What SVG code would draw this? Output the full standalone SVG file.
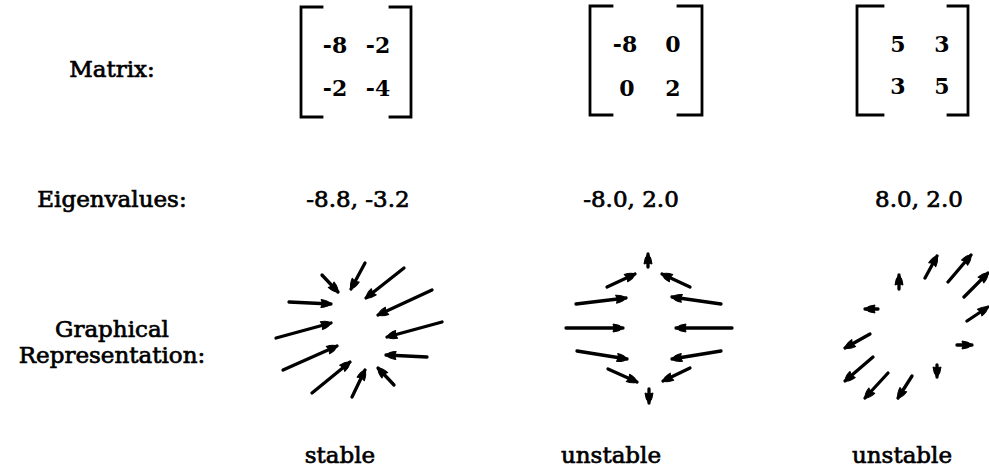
<svg xmlns="http://www.w3.org/2000/svg" width="989" height="474" viewBox="0 0 989 474">
<style>
  .lbl { font-family: "DejaVu Serif", "Liberation Serif", serif; font-size: 23px; fill: #000; text-anchor: middle; stroke: #000; stroke-width: 0.7px; }
  .num { font-family: "DejaVu Serif", "Liberation Serif", serif; font-size: 22px; font-weight: bold; fill: #000; text-anchor: middle; }
  .brk { fill: none; stroke: #000; stroke-width: 2.8; stroke-linecap: square; }
  .arr { fill: none; stroke: #000; stroke-width: 3.3; stroke-linecap: round; marker-end: url(#head); }
</style>
<defs>
  <marker id="head" markerUnits="userSpaceOnUse" viewBox="-11 -5 13 10" refX="0" refY="0" markerWidth="13" markerHeight="10" orient="auto">
    <path d="M-10,-4 Q-3,-3.4 0,0 Q-3,3.4 -10,4 Q-8,0 -10,-4 Z" fill="#000" stroke="#000" stroke-width="1" stroke-linejoin="round"/>
  </marker>
</defs>
<rect width="989" height="474" fill="#fff"/>

<g id="row-labels">
  <text class="lbl" x="112" y="77">Matrix:</text>
  <text class="lbl" x="112" y="207">Eigenvalues:</text>
  <text class="lbl" x="112" y="337">Graphical</text>
  <text class="lbl" x="112" y="363">Representation:</text>
</g>

<g id="matrix-1">
  <path class="brk" d="M322,7 H301 V117 H322 M390,7 H411 V117 H390"/>
  <text class="num" x="335" y="53">-8</text>
  <text class="num" x="378" y="53">-2</text>
  <text class="num" x="335" y="96">-2</text>
  <text class="num" x="378" y="96">-4</text>
</g>
<g id="matrix-2">
  <path class="brk" d="M612,6 H590 V115 H612 M678,6 H702 V115 H678"/>
  <text class="num" x="625" y="52">-8</text>
  <text class="num" x="673" y="52">0</text>
  <text class="num" x="627" y="96">0</text>
  <text class="num" x="673" y="96">2</text>
</g>
<g id="matrix-3">
  <path class="brk" d="M883,6 H857 V115 H883 M948,6 H968 V115 H948"/>
  <text class="num" x="898" y="52">5</text>
  <text class="num" x="942" y="52">3</text>
  <text class="num" x="898" y="94">3</text>
  <text class="num" x="942" y="94">5</text>
</g>

<g id="eigenvalues">
  <text class="lbl" x="358" y="207">-8.8, -3.2</text>
  <text class="lbl" x="631" y="207">-8.0, 2.0</text>
  <text class="lbl" x="919" y="207">8.0, 2.0</text>
</g>

<g id="field-stable">
  <line class="arr" x1="322" y1="275" x2="338" y2="292"/>
  <line class="arr" x1="365" y1="263" x2="351" y2="289"/>
  <line class="arr" x1="404" y1="268" x2="366" y2="298"/>
  <line class="arr" x1="432" y1="290" x2="378" y2="315"/>
  <line class="arr" x1="442" y1="322" x2="387" y2="337"/>
  <line class="arr" x1="427" y1="357" x2="386" y2="355"/>
  <line class="arr" x1="394" y1="385" x2="378" y2="368"/>
  <line class="arr" x1="352" y1="397" x2="365" y2="370"/>
  <line class="arr" x1="312" y1="393" x2="350" y2="362"/>
  <line class="arr" x1="283" y1="370" x2="337" y2="346"/>
  <line class="arr" x1="276" y1="338" x2="331" y2="323"/>
  <line class="arr" x1="289" y1="302" x2="331" y2="304"/>
</g>

<g id="field-saddle">
  <line class="arr" x1="648" y1="267" x2="648" y2="254"/>
  <line class="arr" x1="607" y1="287" x2="635" y2="274"/>
  <line class="arr" x1="690" y1="287" x2="662" y2="274"/>
  <line class="arr" x1="576" y1="304" x2="626" y2="298"/>
  <line class="arr" x1="721" y1="304" x2="672" y2="297"/>
  <line class="arr" x1="566" y1="328" x2="623" y2="328"/>
  <line class="arr" x1="732" y1="328" x2="676" y2="328"/>
  <line class="arr" x1="577" y1="351" x2="627" y2="359"/>
  <line class="arr" x1="721" y1="351" x2="672" y2="359"/>
  <line class="arr" x1="608" y1="369" x2="637" y2="382"/>
  <line class="arr" x1="690" y1="368" x2="663" y2="381"/>
  <line class="arr" x1="649" y1="389" x2="649" y2="403"/>
</g>

<g id="field-source">
  <line class="arr" x1="925" y1="278" x2="937" y2="256"/>
  <line class="arr" x1="948" y1="282" x2="971" y2="255"/>
  <line class="arr" x1="964" y1="297" x2="988" y2="273"/>
  <line class="arr" x1="967" y1="321" x2="988" y2="307"/>
  <line class="arr" x1="957" y1="345" x2="972" y2="345"/>
  <line class="arr" x1="937" y1="365" x2="937" y2="377"/>
  <line class="arr" x1="912" y1="376" x2="898" y2="398"/>
  <line class="arr" x1="888" y1="373" x2="865" y2="398"/>
  <line class="arr" x1="873" y1="357" x2="845" y2="381"/>
  <line class="arr" x1="870" y1="334" x2="845" y2="348"/>
  <line class="arr" x1="878" y1="309" x2="865" y2="309"/>
  <line class="arr" x1="899" y1="289" x2="899" y2="275"/>
</g>

<g id="stability">
  <text class="lbl" x="340" y="463">stable</text>
  <text class="lbl" x="611" y="463">unstable</text>
  <text class="lbl" x="902" y="463">unstable</text>
</g>
</svg>
